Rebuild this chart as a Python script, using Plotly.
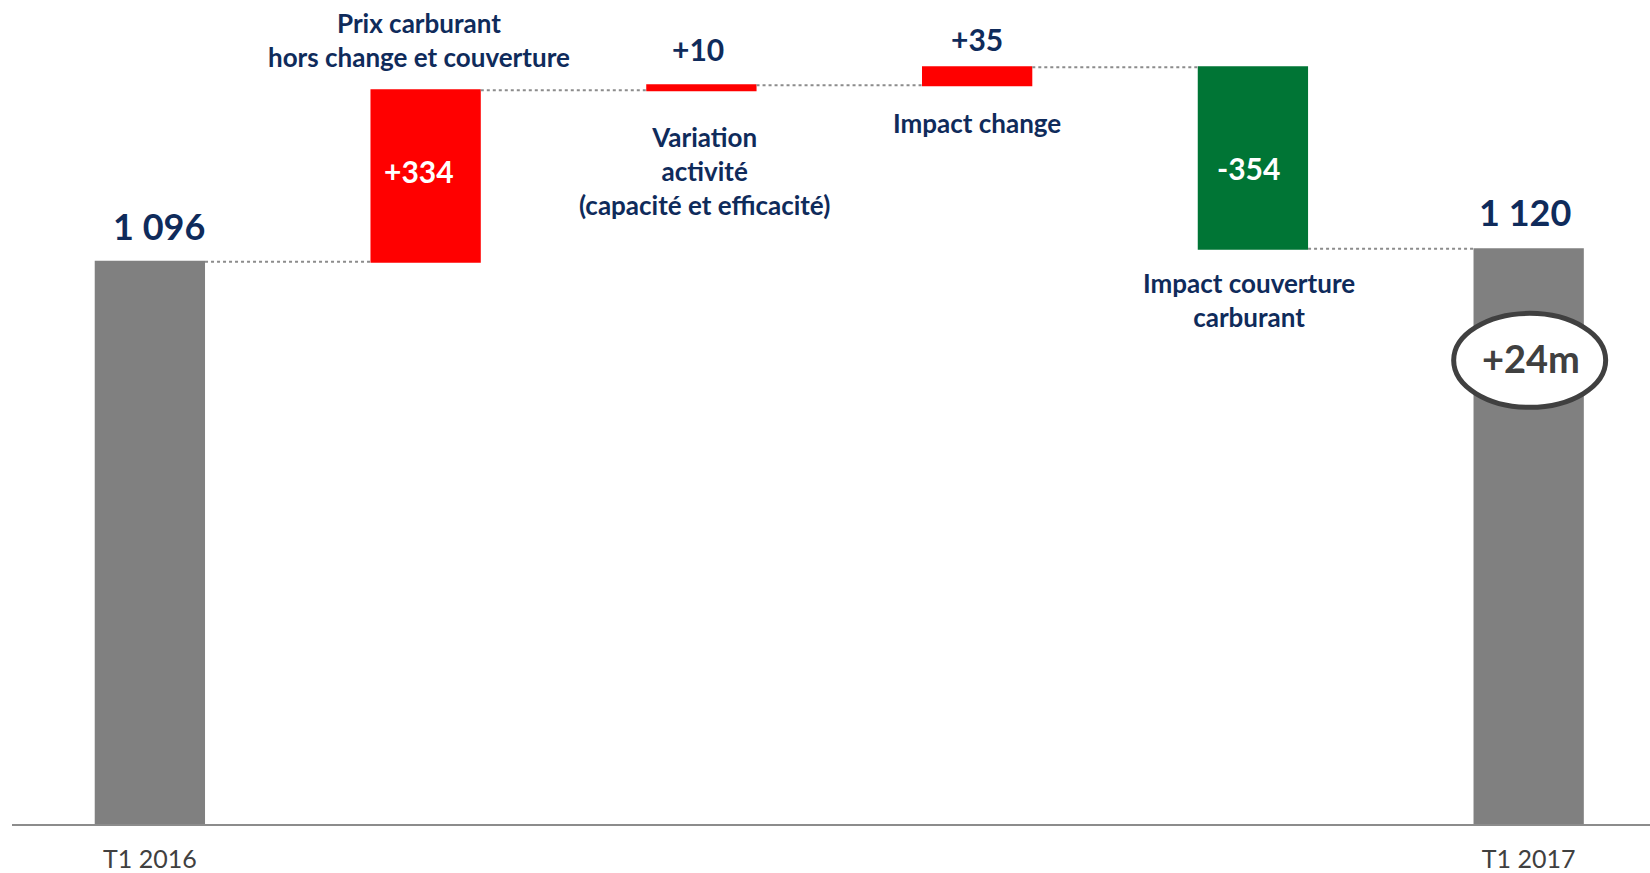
import plotly.graph_objects as go

categories = ["T1 2016", "Prix carburant hors change et couverture",
              "Variation activité (capacité et efficacité)", "Impact change",
              "Impact couverture carburant", "T1 2017"]
measures = ["absolute", "relative", "relative", "relative", "relative", "absolute"]
values = [1096, 334, 10, 35, -354, 1120]
value_labels = ["1 096", "+334", "+10", "+35", "-354", "1 120"]
step_labels = ["", "Prix carburant<br>hors change et couverture",
               "Variation<br>activité<br>(capacité et efficacité)", "Impact change",
               "Impact couverture<br>carburant", ""]
variation_label = "+24m"

NAVY = "#0f2b5b"
FONT = "Lato"

# bas / haut de chaque barre
lows, highs = [], []
running = 0
for m, v in zip(measures, values):
    if m == "absolute":
        lows.append(0); highs.append(v); running = v
    else:
        lows.append(running + min(v, 0)); highs.append(running + max(v, 0)); running += v

fig = go.Figure(go.Waterfall(
    x=categories, y=values, measure=measures,
    increasing=dict(marker=dict(color="#ff0000", line=dict(width=0))),
    decreasing=dict(marker=dict(color="#007535", line=dict(width=0))),
    totals=dict(marker=dict(color="#808080", line=dict(width=0))),
    connector=dict(line=dict(color="#8c8c8c", width=2, dash="dot")),
    textinfo="none",
))

# valeurs : (ancre, y-shift, x-shift, couleur, taille)
val_pos = [("top", 36, 9, NAVY, 36), ("mid", 5, -7, "white", 30), ("top", 36, -3, NAVY, 30),
           ("top", 28, 0, NAVY, 30), ("mid", -10, -4, "white", 30), ("top", 37, -4, NAVY, 36)]
for i, (where, dy, dx, col, sz) in enumerate(val_pos):
    y = highs[i] if where == "top" else (lows[i] + highs[i]) / 2
    fig.add_annotation(x=categories[i], y=y, text=value_labels[i], showarrow=False,
                       yanchor="middle", yshift=dy, xshift=dx,
                       font=dict(family=FONT, size=sz, color=col, weight="bold"))

# libellés des étapes
lab_pos = {1: ("top", 50, -7), 2: ("low", -81, 3), 3: ("low", -38, 0), 4: ("low", -51, -4)}
for i, (where, dy, dx) in lab_pos.items():
    y = highs[i] if where == "top" else lows[i]
    fig.add_annotation(x=categories[i], y=y, text=step_labels[i], showarrow=False,
                       yanchor="middle", yshift=dy, xshift=dx,
                       font=dict(family=FONT, size=26, color=NAVY, weight="bold"))

# ellipse +24m
fig.add_shape(type="circle", xref="x", yref="y", xsizemode="pixel", ysizemode="pixel",
              xanchor=categories[-1], yanchor=highs[-1], x0=-75, x1=77, y0=-158, y1=-64,
              line=dict(color="#404040", width=5), fillcolor="white", layer="above")
fig.add_annotation(x=categories[-1], y=highs[-1], text=variation_label, showarrow=False,
                   yanchor="middle", yshift=-109, xshift=2,
                   font=dict(family=FONT, size=38, color="#404040", weight="bold"))

fig.update_layout(
    width=1650, height=873,
    margin=dict(l=12, r=0, t=0, b=49),
    paper_bgcolor="white", plot_bgcolor="white",
    showlegend=False, waterfallgap=0.6,
    xaxis=dict(range=[-0.5, 5.44], showgrid=False, zeroline=False, automargin=False,
               showline=True, linecolor="#8c8c8c", linewidth=2,
               tickvals=[categories[0], categories[-1]], ticktext=[categories[0], categories[-1]],
               ticks="outside", ticklen=12, tickcolor="rgba(0,0,0,0)",
               tickfont=dict(family=FONT, size=25, color="#404040")),
    yaxis=dict(range=[0, 1606], visible=False),
)

fig.write_html("out.html", config={"displayModeBar": False},
               post_script="document.body.style.margin='0px';")
